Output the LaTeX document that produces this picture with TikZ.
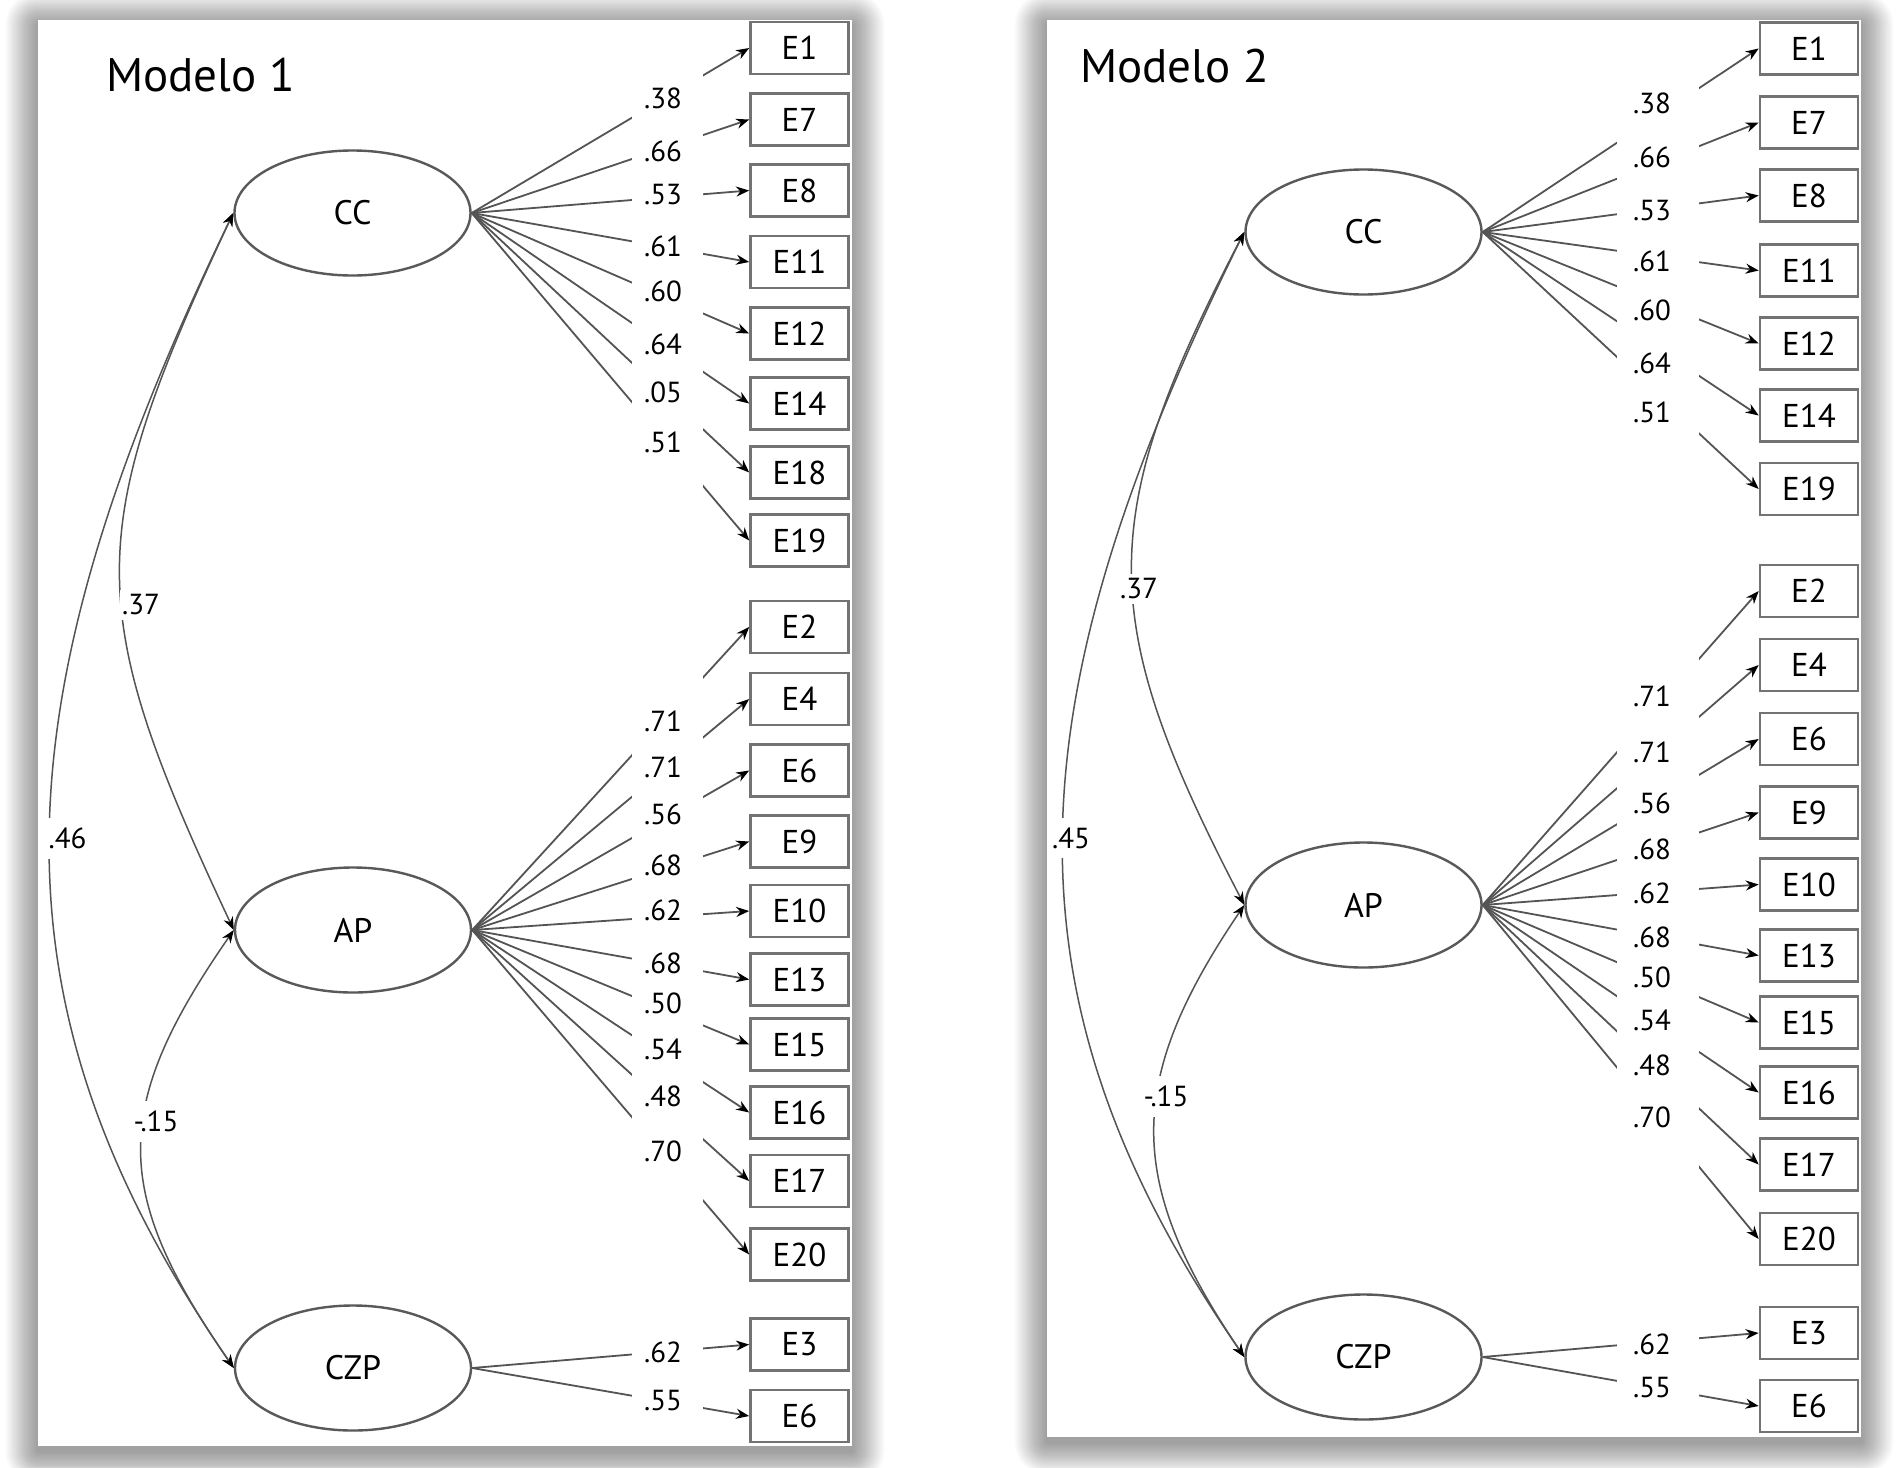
\documentclass[tikz,border=0pt]{standalone}
\usepackage{fontspec}
\setmainfont{PT Sans}
\usetikzlibrary{shapes.geometric,arrows.meta}
\definecolor{linecol}{gray}{0.33}
\definecolor{latcol}{gray}{0.35}
\definecolor{boxcol}{gray}{0.45}
\newcommand\myshadow[4]{%
  \foreach \i in {1,...,26}{%
    \pgfmathsetmacro\d{\i*1.25}%
    \fill[black,opacity=0.015,rounded corners=\d pt] ({#1-\d},{#2-\d+5}) rectangle ({#3+\d},{#4+\d+5});}}
\begin{document}
\begin{tikzpicture}[x=1pt,y=-1pt,
  lat/.style={ellipse, draw=latcol, line width=2.4pt, fill=white, minimum width=236pt, minimum height=125pt, inner sep=0pt, font=\fontsize{34}{40}\selectfont},
  obs/.style={rectangle, draw=boxcol, line width=2.6pt, fill=white, minimum width=98pt, minimum height=52pt, inner sep=0pt, font=\fontsize{33}{40}\selectfont},
  tip/.tip={Stealth[length=13pt,width=10pt,color=black]},
  load/.style={draw=linecol, line width=1.8pt, -tip},
  cov/.style={draw=linecol, line width=1.5pt, tip-tip},
  est/.style={font=\fontsize{29}{34}\selectfont, inner sep=1pt},
  cest/.style={est, fill=white, inner xsep=2pt, inner ysep=7pt},
  ttl/.style={font=\fontsize{47}{56}\selectfont, anchor=base west, inner sep=0pt}]
\useasboundingbox (0,0) rectangle (1902,1467);
\fill[white] (0,0) rectangle (1902,1467);
% panel shadows and panels
\myshadow{38}{20}{852}{1446}
\myshadow{1047}{20}{1861}{1437}
\fill[white] (38,20) rectangle (852,1446);
\fill[white] (1047,20) rectangle (1861,1437);

% ---------------- Modelo 1 ----------------
\node[ttl] (t1) at (106,91) {Modelo 1};
\node[lat] (CCa) at (352.5,213) {CC};
\node[lat] (APa) at (353,930) {AP};
\node[lat] (CZPa) at (353,1368) {CZP};
\node[obs] (a1)  at (799.5,48)    {E1};
\node[obs] (a7)  at (799.5,119.5) {E7};
\node[obs] (a8)  at (799.5,190.5) {E8};
\node[obs] (a11) at (799.5,262)   {E11};
\node[obs] (a12) at (799.5,333.5) {E12};
\node[obs] (a14) at (799.5,403.5) {E14};
\node[obs] (a18) at (799.5,472.5) {E18};
\node[obs] (a19) at (799.5,540.5) {E19};
\node[obs] (a2)  at (799.5,627)   {E2};
\node[obs] (a4)  at (799.5,699)   {E4};
\node[obs] (a6)  at (799.5,770.5) {E6};
\node[obs] (a9)  at (799.5,841.5) {E9};
\node[obs] (a10) at (799.5,911)   {E10};
\node[obs] (a13) at (799.5,979.5) {E13};
\node[obs] (a15) at (799.5,1044.5){E15};
\node[obs] (a16) at (799.5,1112.5){E16};
\node[obs] (a17) at (799.5,1181)  {E17};
\node[obs] (a20) at (799.5,1254.5){E20};
\node[obs] (a3)  at (799.5,1344.5){E3};
\node[obs] (a6z) at (799.5,1416)  {E6};

\foreach \b in {a1,a7,a8,a11,a12,a14,a18,a19} \draw[load] (CCa.east) -- (\b.west);
\foreach \b in {a2,a4,a6,a9,a10,a13,a15,a16,a17,a20} \draw[load] (APa.east) -- (\b.west);
\foreach \b in {a3,a6z} \draw[load] (CZPa.east) -- (\b.west);

\draw[cov] (CCa.west) .. controls (82.5,535) and (82.5,608) .. (APa.west);
\draw[cov] (CCa.west) .. controls (-2,700) and (-20,1000) .. (CZPa.west);
\draw[cov] (APa.west) .. controls (111,1107) and (111,1191) .. (CZPa.west);

\fill[white] (632,20) rectangle (703,1445);

\node[est] (la1)  at (663,98)   {.38};
\node[est] (la2)  at (663,151)  {.66};
\node[est] (la3)  at (663,195)  {.53};
\node[est] (la4)  at (663,246)  {.61};
\node[est] (la5)  at (663,291)  {.60};
\node[est] (la6)  at (663,344)  {.64};
\node[est] (la7)  at (663,392)  {.05};
\node[est] (la8)  at (663,442)  {.51};
\node[est] (la9)  at (663,721)  {.71};
\node[est] (la10) at (663,767)  {.71};
\node[est] (la11) at (663,814)  {.56};
\node[est] (la12) at (663,865)  {.68};
\node[est] (la13) at (663,910)  {.62};
\node[est] (la14) at (663,963)  {.68};
\node[est] (la15) at (663,1003) {.50};
\node[est] (la16) at (663,1049) {.54};
\node[est] (la17) at (663,1096) {.48};
\node[est] (la18) at (663,1151) {.70};
\node[est] (la19) at (663,1352) {.62};
\node[est] (la20) at (663,1401) {.55};

\node[cest, inner ysep=5pt] (ca1) at (141,605) {.37};
\node[cest, inner ysep=10pt] (ca2) at (67.5,838) {.46};
\node[cest, inner ysep=10pt] (ca3) at (156,1121) {-.15};

% ---------------- Modelo 2 ----------------
\node[ttl] (t2) at (1080,82) {Modelo 2};
\node[lat] (CCb) at (1363.5,232) {CC};
\node[lat] (APb) at (1363.5,905) {AP};
\node[lat] (CZPb) at (1363.5,1357) {CZP};
\node[obs] (b1)  at (1809,48.5)  {E1};
\node[obs] (b7)  at (1809,122.5) {E7};
\node[obs] (b8)  at (1809,195.5) {E8};
\node[obs] (b11) at (1809,270.5) {E11};
\node[obs] (b12) at (1809,343.5) {E12};
\node[obs] (b14) at (1809,415.5) {E14};
\node[obs] (b19) at (1809,489)   {E19};
\node[obs] (b2)  at (1809,591)   {E2};
\node[obs] (b4)  at (1809,665)   {E4};
\node[obs] (b6)  at (1809,739)   {E6};
\node[obs] (b9)  at (1809,812.5) {E9};
\node[obs] (b10) at (1809,884.5) {E10};
\node[obs] (b13) at (1809,955.5) {E13};
\node[obs] (b15) at (1809,1022.5){E15};
\node[obs] (b16) at (1809,1092.5){E16};
\node[obs] (b17) at (1809,1164.5){E17};
\node[obs] (b20) at (1809,1239)  {E20};
\node[obs] (b3)  at (1809,1333)  {E3};
\node[obs] (b6z) at (1809,1406)  {E6};

\foreach \b in {b1,b7,b8,b11,b12,b14,b19} \draw[load] (CCb.east) -- (\b.west);
\foreach \b in {b2,b4,b6,b9,b10,b13,b15,b16,b17,b20} \draw[load] (APb.east) -- (\b.west);
\foreach \b in {b3,b6z} \draw[load] (CZPb.east) -- (\b.west);

\draw[cov] (CCb.west) .. controls (1095,519) and (1095,618) .. (APb.west);
\draw[cov] (CCb.west) .. controls (1010,707) and (996,997) .. (CZPb.west);
\draw[cov] (APb.west) .. controls (1125,1081) and (1125,1181) .. (CZPb.west);

\fill[white] (1617,20) rectangle (1699,1436);

\node[est] (lb1)  at (1652,103)  {.38};
\node[est] (lb2)  at (1652,157)  {.66};
\node[est] (lb3)  at (1652,211)  {.53};
\node[est] (lb4)  at (1652,261)  {.61};
\node[est] (lb5)  at (1652,310)  {.60};
\node[est] (lb6)  at (1652,363)  {.64};
\node[est] (lb7)  at (1652,412)  {.51};
\node[est] (lb8)  at (1652,696)  {.71};
\node[est] (lb9)  at (1652,752)  {.71};
\node[est] (lb10) at (1652,803)  {.56};
\node[est] (lb11) at (1652,849)  {.68};
\node[est] (lb12) at (1652,893)  {.62};
\node[est] (lb13) at (1652,937)  {.68};
\node[est] (lb14) at (1652,977)  {.50};
\node[est] (lb15) at (1652,1020) {.54};
\node[est] (lb16) at (1652,1065) {.48};
\node[est] (lb17) at (1652,1117) {.70};
\node[est] (lb18) at (1652,1344) {.62};
\node[est] (lb19) at (1652,1388) {.55};

\node[cest, inner ysep=5pt] (cb1) at (1139,589) {.37};
\node[cest, inner ysep=10pt] (cb2) at (1071,838) {.45};
\node[cest, inner ysep=10pt] (cb3) at (1166,1096) {-.15};
\end{tikzpicture}
\end{document}
